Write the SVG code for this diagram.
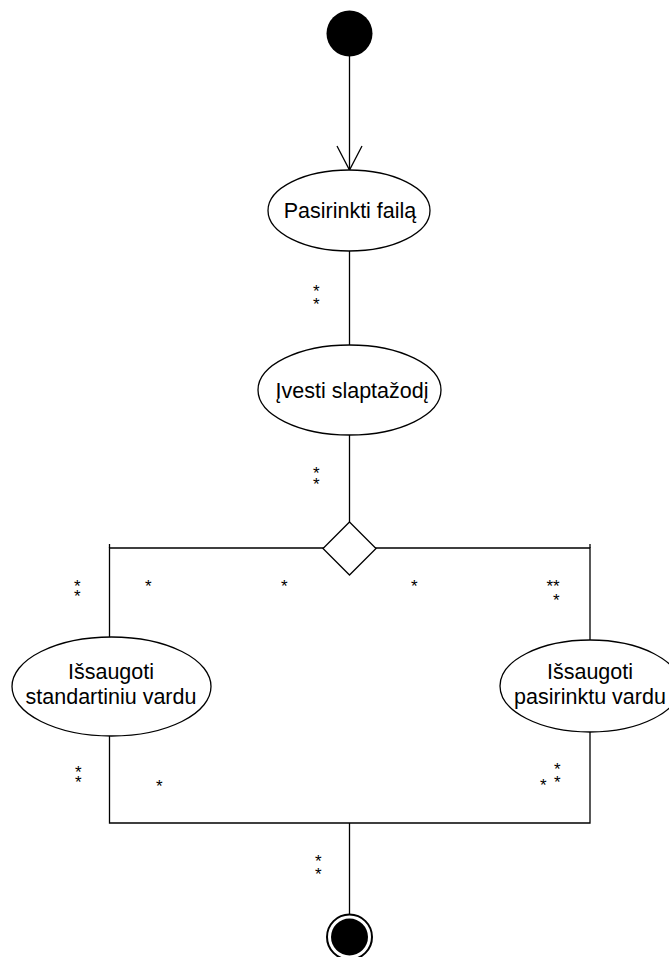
<svg xmlns="http://www.w3.org/2000/svg" width="669" height="957" viewBox="0 0 669 957">
  <style>
    .bg { fill: #ffffff; }
    .line { fill: none; stroke: #000; stroke-width: 1.3; }
    .node { fill: #ffffff; stroke: #000; stroke-width: 1.3; }
    .label { font-family: "Liberation Sans", Arial, sans-serif; font-size: 21.5px; fill: #000; text-anchor: middle; }
    .mult { font-family: "Liberation Sans", Arial, sans-serif; font-size: 17px; fill: #000; }
  </style>
  <rect class="bg" x="0" y="0" width="669" height="957"/>

  <g id="connectors">
    <!-- start to first action, open arrowhead -->
    <line class="line" x1="349.5" y1="56" x2="349.5" y2="170"/>
    <polyline class="line" points="337,146 349.5,170 362,146"/>
    <!-- first to second action -->
    <line class="line" x1="349.5" y1="251" x2="349.5" y2="345"/>
    <!-- second action to decision -->
    <line class="line" x1="349.5" y1="435" x2="349.5" y2="522"/>
    <!-- decision branches -->
    <polyline class="line" points="109.5,637 109.5,548 590,548 590,640"/>
    <line class="line" x1="109.5" y1="544" x2="109.5" y2="548"/>
    <line class="line" x1="590" y1="544" x2="590" y2="548"/>
    <!-- merge back -->
    <polyline class="line" points="109.5,736 109.5,823 590,823 590,732"/>
    <line class="line" x1="349.5" y1="823" x2="349.5" y2="915"/>
  </g>

  <g id="start">
    <circle cx="349.5" cy="33.5" r="23" fill="#000"/>
  </g>

  <g id="pasirinkti-faila">
    <ellipse class="node" cx="349" cy="210.5" rx="81" ry="40.5"/>
    <text class="label" x="350" y="218">Pasirinkti failą</text>
  </g>

  <g id="ivesti-slaptazodi">
    <ellipse class="node" cx="349.5" cy="390" rx="91.5" ry="45"/>
    <text class="label" x="352" y="398">Įvesti slaptažodį</text>
  </g>

  <g id="decision">
    <polygon class="node" points="349.5,522 376,548.5 349.5,575 323,548.5"/>
  </g>

  <g id="issaugoti-standartiniu">
    <ellipse class="node" cx="111.5" cy="686.5" rx="99.5" ry="49.5"/>
    <text class="label" x="111" y="679">Išsaugoti</text>
    <text class="label" x="111" y="704">standartiniu vardu</text>
  </g>

  <g id="issaugoti-pasirinktu">
    <ellipse class="node" cx="590" cy="686" rx="90" ry="46"/>
    <text class="label" x="590" y="679">Išsaugoti</text>
    <text class="label" x="590" y="704">pasirinktu vardu</text>
  </g>

  <g id="end">
    <circle cx="349.5" cy="937" r="22.5" fill="#fff" stroke="#000" stroke-width="2"/>
    <circle cx="349.5" cy="937" r="18.5" fill="#000"/>
  </g>

  <g id="multiplicities">
    <text class="mult" x="313" y="297">*</text>
    <text class="mult" x="313" y="310">*</text>
    <text class="mult" x="313" y="479">*</text>
    <text class="mult" x="313" y="490">*</text>
    <text class="mult" x="74" y="592">*</text>
    <text class="mult" x="74" y="602">*</text>
    <text class="mult" x="145" y="592">*</text>
    <text class="mult" x="281" y="592">*</text>
    <text class="mult" x="411" y="592">*</text>
    <text class="mult" x="546.5" y="592">**</text>
    <text class="mult" x="553" y="606">*</text>
    <text class="mult" x="75" y="778">*</text>
    <text class="mult" x="75" y="788">*</text>
    <text class="mult" x="156" y="792">*</text>
    <text class="mult" x="554" y="775">*</text>
    <text class="mult" x="540" y="791">*</text>
    <text class="mult" x="554" y="788">*</text>
    <text class="mult" x="315" y="867">*</text>
    <text class="mult" x="315" y="880">*</text>
  </g>
</svg>
